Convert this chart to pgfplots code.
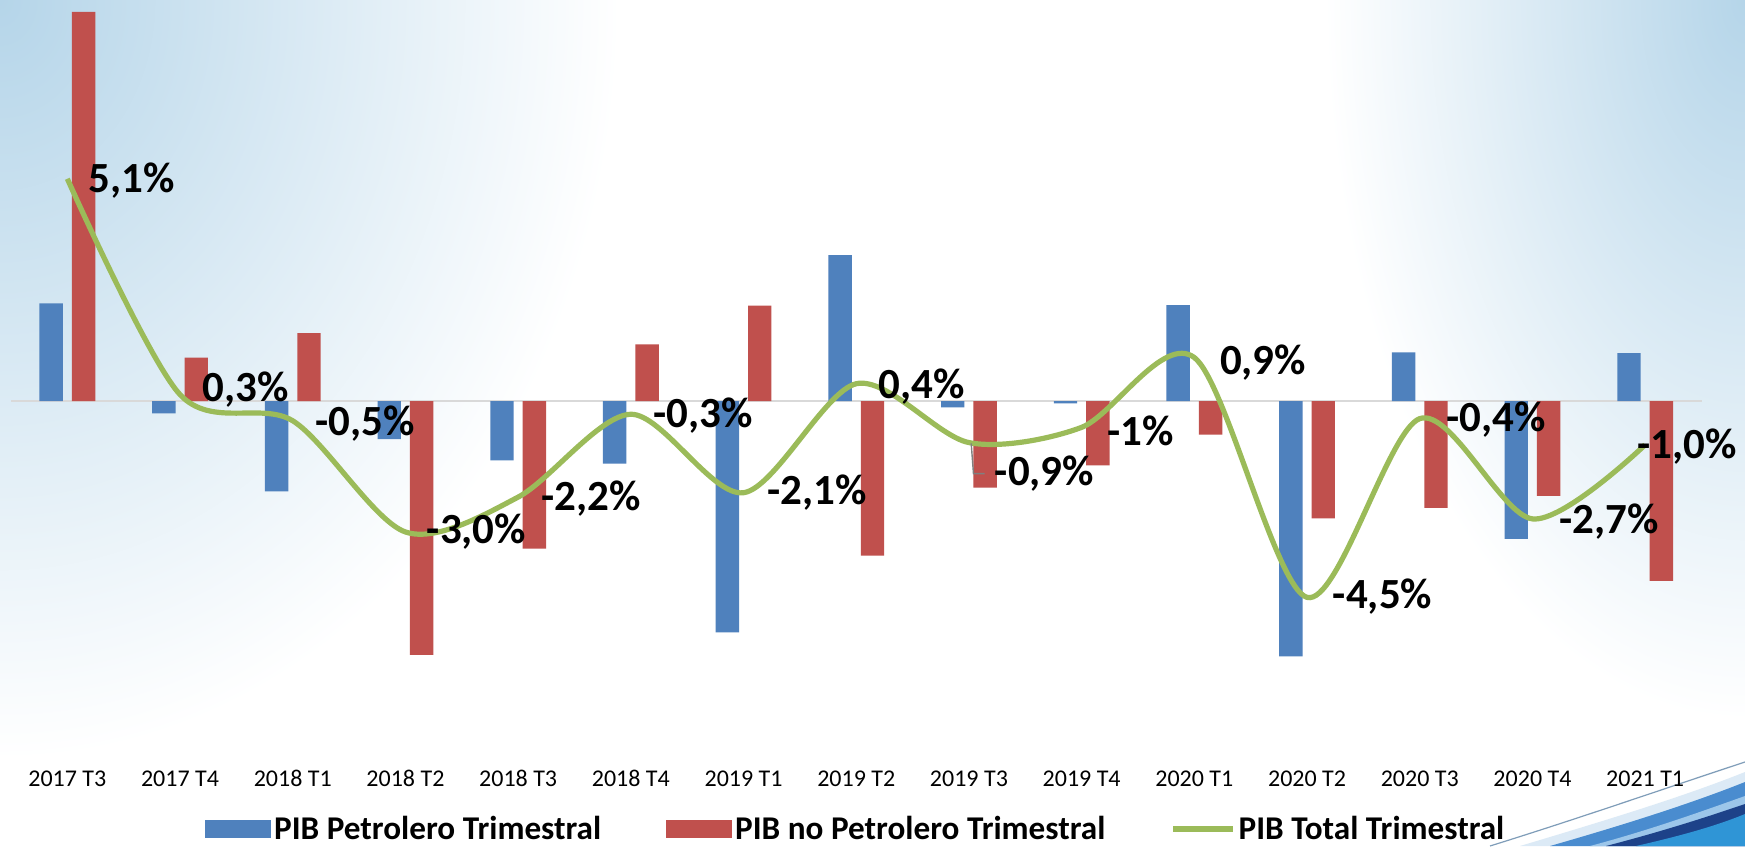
\documentclass[border=0pt]{standalone}
\usepackage{fontspec}
\setmainfont{Carlito}
\usepackage{pgfplots}
\pgfplotsset{compat=1.18}
\definecolor{cblue}{HTML}{4F81BD}
\definecolor{cred}{HTML}{C0504D}
\definecolor{cgreen}{HTML}{9BBB59}
\definecolor{bgblue}{HTML}{B5D5E9}
\definecolor{sw1}{HTML}{7F9DB9}
\definecolor{sw2}{HTML}{DCEAF6}
\definecolor{sw3}{HTML}{4A8CCF}
\definecolor{sw4}{HTML}{9CC6EA}
\definecolor{sw5}{HTML}{1D4289}
\definecolor{sw6}{HTML}{2F95D6}
\begin{document}
\begin{tikzpicture}[x=1pt,y=1pt]
\begin{scope}[shift={(-5.5,-48)}]
\fill[white] (0,0) rectangle (872.5,423);
\begin{scope}
\clip (0,0) rectangle (872.5,423);
\shade[inner color=bgblue, outer color=white] (0,423) ellipse (310 and 380);
\shade[inner color=bgblue, outer color=white] (872.5,423) ellipse (210 and 360);
\fill[sw2] (760,0) .. controls (800,12) and (840,24) .. (872.5,37) -- (872.5,0) -- cycle;
\draw[sw1, line width=0.6] (745,0) .. controls (790,14) and (830,28) .. (872.5,42);
\fill[sw3] (775,0) .. controls (810,10) and (845,21) .. (872.5,32) -- (872.5,0) -- cycle;
\fill[sw4] (795,0) .. controls (825,8) and (850,17) .. (872.5,25) -- (872.5,0) -- cycle;
\fill[sw5] (803,0) .. controls (830,7) and (852,14) .. (872.5,21) -- (872.5,0) -- cycle;
\fill[sw6] (818,0) .. controls (840,5) and (858,10) .. (872.5,16) -- (872.5,0) -- cycle;
\end{scope}
\end{scope}
\begin{axis}[
  scale only axis,
  width=845.25pt, height=375pt,
  xmin=-0.5, xmax=14.5, ymin=-8.0, ymax=9.2,
  axis line style={draw=none},
  xtick={0,1,2,3,4,5,6,7,8,9,10,11,12,13,14},
  xticklabels={2017 T3,2017 T4,2018 T1,2018 T2,2018 T3,2018 T4,2019 T1,2019 T2,2019 T3,2019 T4,2020 T1,2020 T2,2020 T3,2020 T4,2021 T1},
  major tick length=0pt,
  ytick=\empty,
  extra y ticks={0}, extra y tick labels={},
  extra y tick style={grid=major},
  major grid style={draw=black!15, line width=1pt},
  clip=false,
  xticklabel style={font=\fontsize{12}{14}\selectfont, anchor=base, yshift=-18pt},
  legend columns=3,
  legend style={at={(0.5,-0.1053)}, anchor=center, draw=none, fill=none,
    font=\bfseries\fontsize{16.6}{19}\selectfont, inner sep=0pt,
    nodes={inner sep=1.5pt},
    /tikz/every even column/.append style={column sep=31pt}},
]
\addplot[ybar, bar width=11.7pt, bar shift=-8.1pt, fill=cblue, draw=none,
  legend image code/.code={\fill[cblue] (0pt,-4.5pt) rectangle (33pt,4.5pt);}]
  coordinates {(0,2.24) (1,-0.28) (2,-2.07) (3,-0.87) (4,-1.36) (5,-1.43) (6,-5.30) (7,3.35) (8,-0.14) (9,-0.05) (10,2.20) (11,-5.85) (12,1.12) (13,-3.16) (14,1.10)};
\addlegendentry{PIB Petrolero Trimestral}
\addplot[ybar, bar width=11.7pt, bar shift=8.1pt, fill=cred, draw=none,
  legend image code/.code={\fill[cred] (0pt,-4.5pt) rectangle (33pt,4.5pt);}]
  coordinates {(0,8.93) (1,1.00) (2,1.56) (3,-5.82) (4,-3.38) (5,1.30) (6,2.19) (7,-3.54) (8,-1.98) (9,-1.47) (10,-0.77) (11,-2.69) (12,-2.45) (13,-2.17) (14,-4.12)};
\addlegendentry{PIB no Petrolero Trimestral}
\addplot[cgreen, line width=2.6pt, smooth, tension=0.5, no markers,
  legend image code/.code={\draw[cgreen, line width=2.6pt] (0pt,0pt) -- (30pt,0pt);}]
  coordinates {(0,5.1) (1,0.15) (2,-0.45) (3,-3.0) (4,-2.2) (5,-0.3) (6,-2.1) (7,0.4) (8,-0.95) (9,-0.6) (10,1.0) (11,-4.5) (12,-0.4) (13,-2.7) (14,-1.0)};
\addlegendentry{PIB Total Trimestral}
\draw[gray, line width=0.7pt] (axis cs:8.02,-0.97) -- (axis cs:8.04,-1.66) -- (axis cs:8.14,-1.66);
\begin{scope}[every node/.style={font=\bfseries\fontsize{21.5}{24}\selectfont, inner sep=0pt}]
\node at (axis cs:0.57,5.05) {5,1\%};
\node at (axis cs:1.58,0.26) {0,3\%};
\node at (axis cs:2.64,-0.51) {-0,5\%};
\node at (axis cs:3.63,-3.0) {-3,0\%};
\node at (axis cs:4.65,-2.24) {-2,2\%};
\node at (axis cs:5.64,-0.33) {-0,3\%};
\node at (axis cs:6.65,-2.09) {-2,1\%};
\node at (axis cs:7.58,0.33) {0,4\%};
\node at (axis cs:8.67,-1.66) {-0,9\%};
\node at (axis cs:9.52,-0.69) {-1\%};
\node at (axis cs:10.61,0.89) {0,9\%};
\node at (axis cs:11.67,-4.49) {-4,5\%};
\node at (axis cs:12.68,-0.43) {-0,4\%};
\node at (axis cs:13.68,-2.76) {-2,7\%};
\node at (axis cs:14.37,-1.05) {-1,0\%};
\end{scope}
\end{axis}
\pgfresetboundingbox
\useasboundingbox (-5.5,-48) rectangle (867,375);
\end{tikzpicture}
\end{document}
